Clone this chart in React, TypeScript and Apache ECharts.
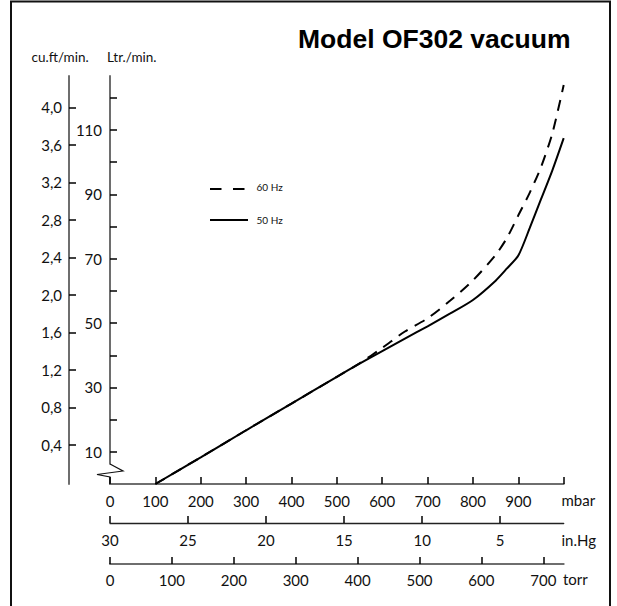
import React, { useEffect, useRef } from "react";
import * as echarts from "echarts";

// ---- data ----
const pressureMbar = [100, 200, 300, 400, 500, 550, 600, 650, 700, 750, 800, 850, 875, 900, 925, 950, 975, 1000];
const flow50Hz = [0, 8.3, 16.7, 25, 33.3, 37.4, 41.3, 45.2, 49, 53, 57.2, 63.2, 67, 71, 79.5, 88.5, 97.5, 107.5];
const flow60Hz = [0, 8.3, 16.7, 25, 33.3, 37.5, 42.3, 47.4, 51.5, 57, 63.3, 71.2, 76.5, 83.5, 90.5, 98.5, 109, 124];

const mbarTicks = [0, 100, 200, 300, 400, 500, 600, 700, 800, 900, 1000];
const mbarLabels = [0, 100, 200, 300, 400, 500, 600, 700, 800, 900];
const inHgTicks = [5, 10, 15, 20, 25, 30];
const torrTicks = [0, 100, 200, 300, 400, 500, 600, 700];
const ltrTicks = [10, 20, 30, 40, 50, 60, 70, 80, 90, 100, 110, 120];
const ltrLabels = [10, 30, 50, 70, 90, 110];
const cuftTicks = [0.4, 0.8, 1.2, 1.6, 2.0, 2.4, 2.8, 3.2, 3.6, 4.0];

const FONT = "Lato";

export default function App() {
  const ref = useRef<HTMLDivElement>(null);
  useEffect(() => {
    if (!ref.current) return;
    const chart = echarts.init(ref.current, null, { renderer: "svg" });
    const labelStyle = { fontFamily: FONT, fontSize: 15, color: "#111" };
    const tickStyle = { color: "#000", width: 1.5 };
    const grayAxis = { color: "#6e6e6e", width: 2 };
    const s60 = pressureMbar.map((p, i) => [p, flow60Hz[i]]);
    const s50 = pressureMbar.map((p, i) => [p, flow50Hz[i]]);
    chart.setOption({
      animation: false,
      backgroundColor: "#fff",
      grid: { left: 110, right: 53.3, top: 76, bottom: 122, outerBoundsMode: "none", containLabel: false },
      xAxis: [
        {
          type: "value", min: 0, max: 1000, position: "bottom",
          axisLine: { onZero: false, lineStyle: grayAxis },
          axisTick: { inside: true, length: 7, lineStyle: tickStyle, customValues: mbarTicks },
          axisLabel: { ...labelStyle, margin: 9, customValues: mbarLabels },
          splitLine: { show: false },
        },
        {
          type: "value", min: 0.93, max: 30, inverse: true, position: "bottom", offset: 39,
          axisLine: { onZero: false, lineStyle: { color: "#222", width: 1.3 } },
          axisTick: { inside: true, length: 7, lineStyle: tickStyle, customValues: inHgTicks },
          axisLabel: { ...labelStyle, margin: 9, customValues: inHgTicks },
          splitLine: { show: false },
        },
        {
          type: "value", min: 0, max: 733, position: "bottom", offset: 80,
          axisLine: { onZero: false, lineStyle: grayAxis },
          axisTick: { inside: true, length: 7, lineStyle: tickStyle, customValues: torrTicks },
          axisLabel: { ...labelStyle, margin: 8, customValues: torrTicks },
          splitLine: { show: false },
        },
      ],
      yAxis: [
        {
          type: "value", min: 0, max: 126.8, position: "left",
          axisLine: { show: true, onZero: false, lineStyle: grayAxis },
          axisTick: { show: true, inside: true, length: 7, lineStyle: tickStyle, customValues: ltrTicks },
          axisLabel: { ...labelStyle, margin: 8, customValues: ltrLabels },
          splitLine: { show: false },
        },
        {
          type: "value", min: -0.016, max: 4.334, position: "left", offset: 41,
          axisLine: { show: true, onZero: false, lineStyle: grayAxis },
          axisTick: { show: true, inside: true, length: 7, lineStyle: tickStyle, customValues: cuftTicks },
          axisLabel: {
            ...labelStyle, margin: 7, customValues: cuftTicks,
            formatter: (v: number) => v.toFixed(1).replace(".", ","),
          },
          splitLine: { show: false },
        },
      ],
      series: [
        {
          name: "60 Hz", type: "line", xAxisIndex: 0, yAxisIndex: 0, data: s60,
          smooth: 0.25, symbol: "none", z: 3,
          lineStyle: { color: "#000", width: 2, type: [11, 8] },
        },
        {
          name: "50 Hz", type: "line", xAxisIndex: 0, yAxisIndex: 0, data: s50,
          smooth: 0.25, symbol: "none", z: 4,
          lineStyle: { color: "#000", width: 2 },
        },
      ],
      graphic: [
        { type: "rect", shape: { x: 11, y: 1.5, width: 599, height: 640 }, style: { fill: "none", stroke: "#111", lineWidth: 2 }, silent: true },
        { type: "text", x: 298, y: 39, style: { text: "Model OF302 vacuum", font: "bold 26.5px 'Liberation Sans', Arial, sans-serif", fill: "#000", verticalAlign: "middle" } },
        { type: "text", x: 31.5, y: 57, style: { text: "cu.ft/min.", font: `13.5px ${FONT}`, fill: "#111", verticalAlign: "middle" } },
        { type: "text", x: 107, y: 57, style: { text: "Ltr./min.", font: `13.5px ${FONT}`, fill: "#111", verticalAlign: "middle" } },
        { type: "text", x: 561.5, y: 500, style: { text: "mbar", font: `15px ${FONT}`, fill: "#111", verticalAlign: "middle" } },
        { type: "text", x: 561.5, y: 539.5, style: { text: "in.Hg", font: `15px ${FONT}`, fill: "#111", verticalAlign: "middle" } },
        { type: "text", x: 563, y: 578.5, style: { text: "torr", font: `15px ${FONT}`, fill: "#111", verticalAlign: "middle" } },
        // legend
        { type: "line", shape: { x1: 210, y1: 189, x2: 245, y2: 189 }, style: { stroke: "#000", lineWidth: 2, lineDash: [11.5, 11.5] } },
        { type: "text", x: 256.5, y: 187, style: { text: "60 Hz", font: `10px ${FONT}`, fill: "#111", verticalAlign: "middle" } },
        { type: "line", shape: { x1: 210, y1: 220, x2: 248, y2: 220 }, style: { stroke: "#000", lineWidth: 2 } },
        { type: "text", x: 256.5, y: 219.5, style: { text: "50 Hz", font: `10px ${FONT}`, fill: "#111", verticalAlign: "middle" } },
        // axis break
        { type: "rect", z: 100, shape: { x: 107, y: 464.5, width: 6, height: 12.5 }, style: { fill: "#fff" } },
        { type: "polyline", z: 101, shape: { points: [[110, 464], [123, 471], [97, 474.5], [110, 477], [110, 484]] }, style: { stroke: "#111", lineWidth: 1.2, fill: "none" } },
      ],
    });
    return () => chart.dispose();
  }, []);
  return <div ref={ref} style={{ position: "absolute", left: 0, top: 0, width: 617, height: 606 }} />;
}
